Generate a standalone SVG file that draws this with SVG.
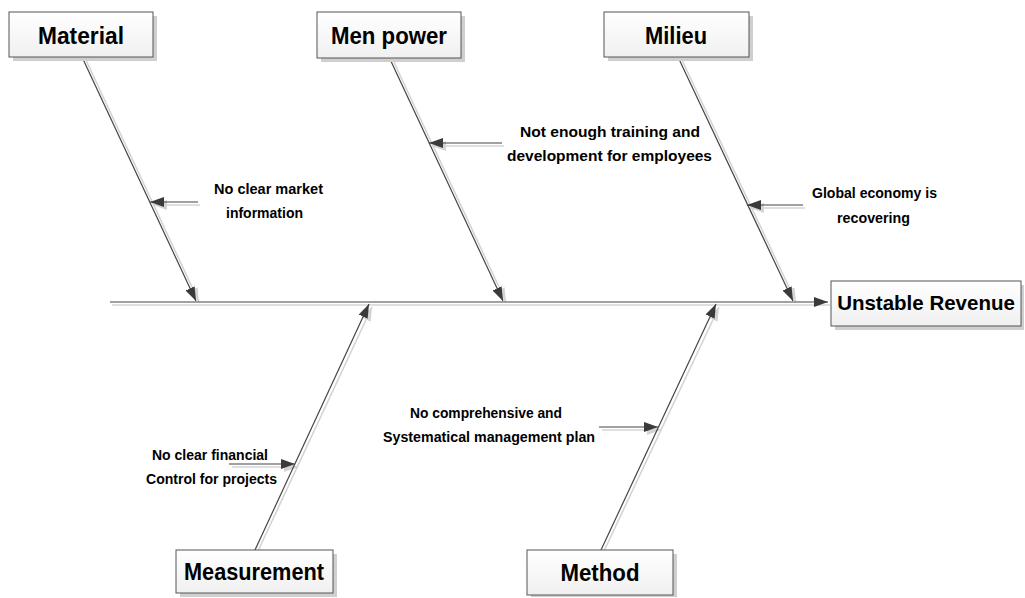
<svg xmlns="http://www.w3.org/2000/svg" width="1025" height="598" viewBox="0 0 1025 598">
  <style>
    .bone { stroke: #444; stroke-width: 1.2; fill: none; }
    .bone-shadow { stroke: #d4d4d4; stroke-width: 1.6; fill: none; }
    .box { fill: url(#boxFill); stroke: #555; stroke-width: 1; }
    .box-shadow { fill: #cfcfcf; }
    .title { font-family: "Liberation Sans", Arial, sans-serif; font-weight: bold; font-size: 23px; fill: #000; text-anchor: middle; }
    .cause { font-family: "Liberation Sans", Arial, sans-serif; font-weight: bold; font-size: 15px; fill: #000; }
  </style>
  <defs>
    <linearGradient id="boxFill" x1="0" y1="0" x2="0" y2="1">
      <stop offset="0" stop-color="#ffffff"/>
      <stop offset="1" stop-color="#f0f0f0"/>
    </linearGradient>
    <marker id="head" viewBox="0 0 14 10" refX="14" refY="5" markerWidth="14" markerHeight="10" markerUnits="userSpaceOnUse" orient="auto">
      <path d="M0,0 L14,5 L0,10 Z" fill="#3a3a3a"/>
    </marker>
    <marker id="headShadow" viewBox="0 0 14 10" refX="14" refY="5" markerWidth="14" markerHeight="10" markerUnits="userSpaceOnUse" orient="auto">
      <path d="M0,0 L14,5 L0,10 Z" fill="#d4d4d4"/>
    </marker>
  </defs>
  <rect width="1025" height="598" fill="#fff"/>

  <!-- connectors: spine, bones and cause arrows -->
  <g id="connectors">
    <!-- drop shadows of every line -->
    <g class="shadows">
      <line class="bone-shadow" x1="112" y1="305" x2="830" y2="305"/>
      <line class="bone-shadow" x1="85" y1="58" x2="199" y2="302" marker-end="url(#headShadow)"/>
      <line class="bone-shadow" x1="392" y1="58" x2="506" y2="302" marker-end="url(#headShadow)"/>
      <line class="bone-shadow" x1="681" y1="58" x2="796" y2="302" marker-end="url(#headShadow)"/>
      <line class="bone-shadow" x1="258" y1="551" x2="372" y2="307" marker-end="url(#headShadow)"/>
      <line class="bone-shadow" x1="604" y1="551" x2="719" y2="307" marker-end="url(#headShadow)"/>
      <line class="bone-shadow" x1="200" y1="205" x2="153" y2="205" marker-end="url(#headShadow)"/>
      <line class="bone-shadow" x1="504" y1="146" x2="432" y2="146" marker-end="url(#headShadow)"/>
      <line class="bone-shadow" x1="805" y1="208" x2="750" y2="208" marker-end="url(#headShadow)"/>
      <line class="bone-shadow" x1="232" y1="467" x2="298" y2="467" marker-end="url(#headShadow)"/>
      <line class="bone-shadow" x1="602" y1="430" x2="661" y2="430" marker-end="url(#headShadow)"/>
    </g>
    <!-- spine -->
    <line class="bone" x1="110" y1="302" x2="828" y2="302" marker-end="url(#head)"/>
    <!-- upper bones -->
    <line class="bone" x1="82" y1="57" x2="196" y2="301" marker-end="url(#head)"/>
    <line class="bone" x1="389" y1="57" x2="503" y2="301" marker-end="url(#head)"/>
    <line class="bone" x1="678" y1="57" x2="793" y2="301" marker-end="url(#head)"/>
    <!-- lower bones -->
    <line class="bone" x1="255" y1="550" x2="369" y2="304" marker-end="url(#head)"/>
    <line class="bone" x1="601" y1="550" x2="716" y2="304" marker-end="url(#head)"/>
    <!-- cause arrows -->
    <line class="bone" x1="198" y1="202" x2="150" y2="202" marker-end="url(#head)"/>
    <line class="bone" x1="502" y1="143" x2="429" y2="143" marker-end="url(#head)"/>
    <line class="bone" x1="803" y1="205" x2="747" y2="205" marker-end="url(#head)"/>
    <line class="bone" x1="229" y1="464" x2="295" y2="464" marker-end="url(#head)"/>
    <line class="bone" x1="599" y1="427" x2="658" y2="427" marker-end="url(#head)"/>
  </g>

  <!-- category boxes -->
  <g id="material">
    <rect class="box-shadow" x="13" y="16" width="144" height="45"/>
    <rect class="box" x="9" y="12" width="144" height="45"/>
    <text class="title" x="81" y="44" textLength="86" lengthAdjust="spacingAndGlyphs">Material</text>
  </g>
  <g id="men-power">
    <rect class="box-shadow" x="321" y="16" width="144" height="46"/>
    <rect class="box" x="317" y="12" width="144" height="46"/>
    <text class="title" x="389" y="44" textLength="116" lengthAdjust="spacingAndGlyphs">Men power</text>
  </g>
  <g id="milieu">
    <rect class="box-shadow" x="608" y="16" width="145" height="45"/>
    <rect class="box" x="604" y="12" width="145" height="45"/>
    <text class="title" x="676" y="44" textLength="62" lengthAdjust="spacingAndGlyphs">Milieu</text>
  </g>
  <g id="unstable-revenue">
    <rect class="box-shadow" x="835" y="285" width="189" height="45"/>
    <rect class="box" x="831" y="281" width="190" height="45"/>
    <text class="title" x="926" y="310" style="font-size:20.5px">Unstable Revenue</text>
  </g>
  <g id="measurement">
    <rect class="box-shadow" x="180" y="554" width="157" height="43"/>
    <rect class="box" x="176" y="550" width="157" height="43"/>
    <text class="title" x="254" y="580" textLength="140" lengthAdjust="spacingAndGlyphs">Measurement</text>
  </g>
  <g id="method">
    <rect class="box-shadow" x="531" y="554" width="146" height="43"/>
    <rect class="box" x="527" y="550" width="146" height="45"/>
    <text class="title" x="600" y="581" textLength="79" lengthAdjust="spacingAndGlyphs">Method</text>
  </g>

  <!-- cause labels -->
  <g id="cause-material">
    <text class="cause" x="214" y="194" textLength="109" lengthAdjust="spacingAndGlyphs">No clear market</text>
    <text class="cause" x="226" y="218" textLength="77" lengthAdjust="spacingAndGlyphs">information</text>
  </g>
  <g id="cause-men-power">
    <text class="cause" x="520" y="137" textLength="180" lengthAdjust="spacingAndGlyphs">Not enough training and</text>
    <text class="cause" x="507" y="161" textLength="205" lengthAdjust="spacingAndGlyphs">development for employees</text>
  </g>
  <g id="cause-milieu">
    <text class="cause" x="812" y="198" textLength="125" lengthAdjust="spacingAndGlyphs">Global economy is</text>
    <text class="cause" x="837" y="223" textLength="73" lengthAdjust="spacingAndGlyphs">recovering</text>
  </g>
  <g id="cause-measurement">
    <text class="cause" x="152" y="460" textLength="116" lengthAdjust="spacingAndGlyphs">No clear financial</text>
    <text class="cause" x="146" y="484" textLength="131" lengthAdjust="spacingAndGlyphs">Control for projects</text>
  </g>
  <g id="cause-method">
    <text class="cause" x="410" y="418" textLength="152" lengthAdjust="spacingAndGlyphs">No comprehensive and</text>
    <text class="cause" x="383" y="442" textLength="212" lengthAdjust="spacingAndGlyphs">Systematical management plan</text>
  </g>
</svg>
